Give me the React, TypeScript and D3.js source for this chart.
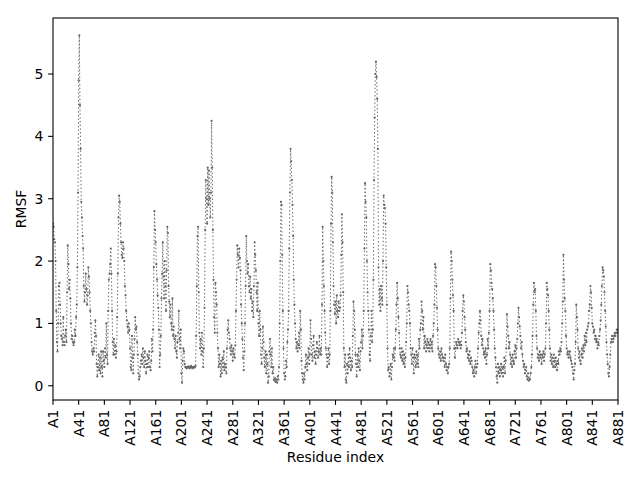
import React from "react";
import * as d3 from "d3";

// RMSF per residue (index 0 = residue A1)
const rmsfPart1 = [
  2.6, 2.55, 2.35, 2.3, 2.0, 1.2, 0.7, 0.55, 1.0, 1.6, 1.65, 1.3, 1.0,
  0.8, 0.75, 0.65, 1.1, 0.7, 0.65, 0.8, 0.9, 0.7,
  1.5, 2.25, 1.95, 1.55, 1.7, 1.4, 1.0, 0.75, 0.8, 0.7, 0.65, 0.7,
  0.9, 0.8, 1.1, 1.3, 1.9, 3.1, 4.9, 5.62, 4.5, 3.8,
  2.95, 2.7, 2.4, 2.2,
  1.6, 1.35, 1.5, 1.8, 1.55, 1.3, 1.45, 1.9, 1.75, 1.5, 1.2,
  1.0, 0.7, 0.55, 0.5, 0.6, 0.55, 0.85, 1.05, 0.8,
  0.35, 0.15, 0.3, 0.5, 0.25, 0.45,
  0.2, 0.55, 0.3, 0.15, 0.55, 0.4, 0.3,
  0.6, 0.45, 1.0, 0.5, 0.35,
  1.2, 1.7, 1.8, 1.95, 2.2, 1.8, 1.2, 0.7,
  0.5, 0.75, 0.5, 0.65, 0.45, 0.55,
  1.1, 1.8, 2.7, 3.05, 2.95,
  2.6, 2.3, 2.1, 2.05, 2.3, 2.2, 2.0, 1.6,
  1.45, 1.2, 1.05, 0.95, 0.85, 1.0, 0.9,
  0.6, 0.3, 0.25, 0.8, 0.45,
  0.2, 0.5, 0.75, 1.1, 0.9, 0.95, 0.7, 0.5,
  0.2, 0.1, 0.15, 0.3,
  0.4, 0.5, 0.35, 0.6, 0.45, 0.3, 0.55, 0.4, 0.2, 0.35, 0.5, 0.3, 0.45, 0.55,
];

const rmsfPart2 = [
  0.3, 0.25, 0.4, 0.75, 0.55, 0.9,
  1.9, 2.8, 2.5, 2.3,
  1.95, 1.7, 1.45, 1.25, 0.9, 0.3,
  0.5, 0.8, 1.4, 1.8, 2.3, 1.75,
  1.4, 2.0, 1.6, 1.2, 1.85,
  2.55, 2.45, 1.6, 1.35,
  1.1, 1.3, 1.0, 0.9, 1.4, 0.8,
  0.95, 0.75, 0.6, 0.8, 0.55, 0.45,
  0.7, 0.85, 1.2, 0.75, 0.6, 0.9,
  0.2, 0.05, 0.4, 0.6, 0.55,
  0.35, 0.3, 0.3, 0.28, 0.3, 0.29, 0.31, 0.3, 0.28, 0.3, 0.32, 0.3, 0.28, 0.3, 0.3, 0.29,
  0.3, 0.32, 0.8, 1.6, 2.4, 2.55, 1.5, 0.85,
  0.6, 0.75, 0.5, 0.85, 0.55, 0.3, 0.6,
  1.25, 2.5, 3.3, 3.0, 2.6,
  3.5, 2.9, 3.45, 3.0, 2.7, 3.1, 4.25,
  3.5, 2.5, 1.7, 1.1, 0.85,
  1.65, 1.5, 1.3, 0.85, 0.6,
  0.3, 0.5, 0.35, 0.15, 0.4, 0.2,
  0.45, 0.3, 0.55, 0.25, 0.35, 0.3, 0.2,
  0.6, 0.9, 1.05, 0.85, 0.75, 0.6,
  0.5, 0.65, 0.55, 0.4, 0.6, 0.5, 0.45, 0.65,
  1.2, 1.7, 2.25, 2.1, 1.9, 2.2,
];

const rmsfPart3 = [
  2.05, 1.85, 1.3, 1.0, 0.75, 0.45,
  0.25, 0.55, 1.0, 1.6,
  2.4, 2.0, 1.8, 1.95, 1.6, 1.5,
  1.75, 1.4, 1.55, 1.2, 1.35, 1.1,
  1.6, 2.3, 2.1, 1.85, 1.5, 1.2,
  1.65, 1.0, 0.8, 1.2, 0.9, 0.5,
  0.35, 0.6, 0.95, 0.7, 0.45, 0.3, 0.55,
  0.2, 0.5, 0.35, 0.05, 0.15, 0.55,
  0.75, 0.5, 0.3, 0.6, 0.2, 0.3,
  0.1, 0.08, 0.12, 0.06, 0.1, 0.05, 0.15, 0.1,
  0.3, 1.0, 2.0, 2.95,
  2.9, 2.1, 1.2, 0.6, 0.2, 0.1,
  0.15, 0.4, 0.3, 0.7, 0.9, 1.2,
  2.2, 3.1, 3.8, 3.6, 3.3,
  2.9, 2.4, 1.7, 1.3, 1.0, 0.75,
  0.6, 0.7, 0.55, 0.65, 0.85, 0.6,
  1.2, 0.9, 0.4, 0.2, 0.1,
  0.05, 0.2, 0.1, 0.3, 0.5, 0.35, 0.25,
  0.45, 0.6, 0.35, 0.5, 1.05, 0.75,
  0.5, 0.4, 0.65, 0.8, 0.45, 0.55, 0.35,
  0.5, 0.7, 0.6, 0.45, 0.55, 0.8, 0.5,
  0.6, 0.5, 1.3, 2.55, 2.0,
  1.6, 1.2, 0.85, 0.6, 0.5, 0.3,
  0.45, 0.6, 0.35, 0.5, 1.2,
  2.6, 3.35, 3.1, 2.3, 1.6, 1.3,
  1.15, 1.35, 1.0, 1.45, 1.2, 1.1, 1.35, 1.2,
];

const rmsfPart4 = [
  1.25, 1.45, 2.1, 2.75, 2.3, 1.5,
  0.6, 0.3, 0.5, 0.1, 0.05, 0.35,
  0.2, 0.5, 0.3, 0.6, 0.45, 0.25, 0.4,
  0.3, 0.8, 1.35, 1.2, 0.9, 0.5,
  0.35, 0.15, 0.5, 0.3, 0.6, 0.4, 0.25, 0.55,
  0.7, 0.9, 0.6, 0.8, 1.2, 2.2, 3.25,
  2.95, 2.7, 2.0, 1.5, 1.2,
  0.9, 0.5, 0.4, 0.8, 1.2, 0.7, 0.9,
  1.7, 3.3, 4.3, 5.0, 5.2, 4.95, 4.6,
  3.8, 1.9, 1.3, 1.55,
  1.2, 1.6, 1.4, 1.3, 2.0, 3.05,
  2.9, 2.85, 2.6, 1.9, 1.3,
  0.6, 0.25, 0.3, 0.15, 0.2,
  0.35, 0.1, 0.3, 0.5, 0.45, 0.6,
  0.4, 0.6, 0.9, 1.3, 1.65, 1.4,
  1.1, 0.85, 0.6, 0.5, 0.45, 0.6,
  0.4, 0.55, 0.35, 0.5, 0.3, 0.45,
  0.7, 1.0, 1.6, 1.5, 1.3, 1.2,
  1.0, 0.6, 0.5, 0.35, 0.6, 0.45,
  0.2, 0.5, 0.45, 0.3, 0.55, 0.35, 0.5, 0.3,
  0.75, 0.6, 0.9, 1.0, 1.35, 1.2,
  0.9, 1.1, 0.6, 0.8, 0.7, 0.55,
  0.65, 0.75, 0.6, 0.7, 0.55, 0.65, 0.75, 0.6, 0.7,
  0.55, 0.8, 1.0, 1.3, 1.95, 1.9,
  1.6, 1.25, 0.9, 0.6, 0.5,
];

const rmsfPart5 = [
  0.45, 0.55, 0.4, 0.6, 0.5, 0.45, 0.4,
  0.45, 0.3, 0.5, 0.35, 0.25, 0.3,
  0.2, 0.3, 0.35, 0.6, 1.4, 2.15,
  2.0, 1.7, 1.45, 1.2, 0.6, 0.45,
  0.6, 0.7, 0.65, 0.6, 0.75, 0.7, 0.65, 0.7,
  0.6, 0.65, 0.85, 1.2, 1.45, 1.35, 1.1,
  0.9, 0.7, 0.55, 0.6, 0.45, 0.5,
  0.4, 0.55, 0.35, 0.45, 0.4, 0.3, 0.2,
  0.25, 0.15, 0.3, 0.4, 0.2, 0.3, 0.35,
  0.6, 0.85, 1.0, 1.2, 1.05, 0.8, 0.65,
  0.75, 0.6, 0.5, 0.55, 0.45, 0.6,
  0.35, 0.5, 0.75, 0.6, 0.85, 1.2,
  1.95, 1.85, 1.65, 1.55, 1.4, 1.2, 0.9,
  0.6, 0.45, 0.3, 0.15, 0.05, 0.35,
  0.2, 0.3, 0.15, 0.25, 0.35, 0.2, 0.3,
  0.15, 0.3, 0.45, 0.2, 0.4, 0.6,
  1.15, 0.95, 0.8, 0.6, 0.7, 0.5,
  0.35, 0.45, 0.3, 0.5, 0.4, 0.35,
  0.55, 0.65, 0.45, 0.6, 0.75, 1.0,
  1.25, 1.1, 0.95, 0.8, 0.6, 0.7,
  0.5, 0.4, 0.3, 0.35, 0.2, 0.25,
  0.3, 0.15, 0.1, 0.2, 0.08, 0.12, 0.1,
];

const rmsfPart6 = [
  0.2, 0.3, 0.5, 0.8, 1.3,
  1.65, 1.5, 1.55, 1.2, 0.8, 0.6,
  0.45, 0.5, 0.4, 0.55, 0.45, 0.5,
  0.35, 0.5, 0.45, 0.55, 0.4, 0.5, 0.6,
  1.0, 1.65, 1.55, 1.45, 1.2, 0.9,
  0.6, 0.4, 0.5, 0.35, 0.45, 0.3,
  0.5, 0.4, 0.3, 0.45, 0.35, 0.25, 0.4, 0.35,
  0.55, 0.5, 0.6, 0.55, 0.7, 1.0,
  1.35, 2.1, 1.7, 1.4, 1.2, 0.8,
  0.6, 0.5, 0.55, 0.45, 0.5, 0.55, 0.45,
  0.4, 0.35, 0.3, 0.2, 0.1, 0.25, 0.35,
  0.7, 1.3, 1.1, 0.9, 0.6, 0.45,
  0.55, 0.4, 0.35, 0.5, 0.6, 0.45, 0.65,
  0.55, 0.8, 0.65, 0.85, 0.7, 0.9, 0.95,
  1.0, 1.2, 1.3, 1.6, 1.5,
  1.25, 1.0, 0.95, 0.85, 0.9, 0.75, 0.8,
  0.7, 0.75, 0.6, 0.7, 0.65, 0.8,
  0.9, 1.05, 1.3, 1.6, 1.9, 1.85,
  1.75, 1.5, 1.2, 0.95, 0.7,
  0.5, 0.35, 0.2, 0.15, 0.3, 0.5,
  0.7, 0.75, 0.8, 0.7, 0.75, 0.8,
  0.85, 0.8, 0.85, 0.9, 0.85, 0.9,
];

const rmsf = [
  ...rmsfPart1,
  ...rmsfPart2,
  ...rmsfPart3,
  ...rmsfPart4,
  ...rmsfPart5,
  ...rmsfPart6,
];

const xTickResidues = [1, 41, 81, 121, 161, 201, 241, 281, 321, 361, 401, 441, 481, 521, 561, 601, 641, 681, 721, 761, 801, 841, 881];
const xTickLabels = xTickResidues.map((r) => "A" + r);
const yTicks = [0, 1, 2, 3, 4, 5];

const W = 640;
const H = 480;
const M = { left: 53, right: 618, top: 18, bottom: 400 };
const FONT = "DejaVu Sans, sans-serif";
const FS = 13.9;
const TICK = 4.86;
const PAD = 4.86;
const LINE_COLOR = "#666666";

export default function App() {
  const n = rmsf.length;
  const x = d3.scaleLinear().domain([0, n - 1]).range([M.left, M.right]);
  const [lo, hi] = d3.extent(rmsf) as [number, number];
  const span = hi - lo;
  const y = d3
    .scaleLinear()
    .domain([lo - 0.05 * span, hi + 0.05 * span])
    .range([M.bottom, M.top]);

  const line = d3
    .line<number>()
    .x((_, i) => x(i))
    .y((d) => y(d));

  return (
    <svg
      width={W}
      height={H}
      style={{ position: "absolute", left: 0, top: 0, background: "#fff" }}
      fontFamily={FONT}
    >
      <rect x={0} y={0} width={W} height={H} fill="#fff" />
      <defs>
        <clipPath id="plotclip">
          <rect x={M.left} y={M.top} width={M.right - M.left} height={M.bottom - M.top} />
        </clipPath>
      </defs>
      <g clipPath="url(#plotclip)">
        <path
          d={line(rmsf) || ""}
          fill="none"
          stroke={LINE_COLOR}
          strokeWidth={1}
          strokeDasharray="1.4,2.3"
        />
        {rmsf.map((v, i) => (
          <circle key={i} cx={x(i)} cy={y(v)} r={1.1} fill={LINE_COLOR} />
        ))}
      </g>
      <rect
        x={M.left}
        y={M.top}
        width={M.right - M.left}
        height={M.bottom - M.top}
        fill="none"
        stroke="#000"
        strokeWidth={1.1}
      />
      {yTicks.map((t) => (
        <g key={"y" + t}>
          <line x1={M.left - TICK} x2={M.left} y1={y(t)} y2={y(t)} stroke="#000" strokeWidth={1.1} />
          <text
            x={M.left - TICK - PAD}
            y={y(t)}
            textAnchor="end"
            dominantBaseline="central"
            fontSize={FS}
            fill="#000"
          >
            {t}
          </text>
        </g>
      ))}
      {xTickResidues.map((r, k) => (
        <g key={"x" + r}>
          <line x1={x(r - 1)} x2={x(r - 1)} y1={M.bottom} y2={M.bottom + TICK} stroke="#000" strokeWidth={1.1} />
          <text
            transform={`translate(${x(r - 1)},${M.bottom + TICK + PAD}) rotate(-90)`}
            textAnchor="end"
            dominantBaseline="central"
            fontSize={FS}
            fill="#000"
          >
            {xTickLabels[k]}
          </text>
        </g>
      ))}
      <text
        x={(M.left + M.right) / 2}
        y={462}
        textAnchor="middle"
        fontSize={FS}
        fill="#000"
      >
        Residue index
      </text>
      <text
        transform={`translate(26,${(M.top + M.bottom) / 2}) rotate(-90)`}
        textAnchor="middle"
        fontSize={FS}
        fill="#000"
      >
        RMSF
      </text>
    </svg>
  );
}
